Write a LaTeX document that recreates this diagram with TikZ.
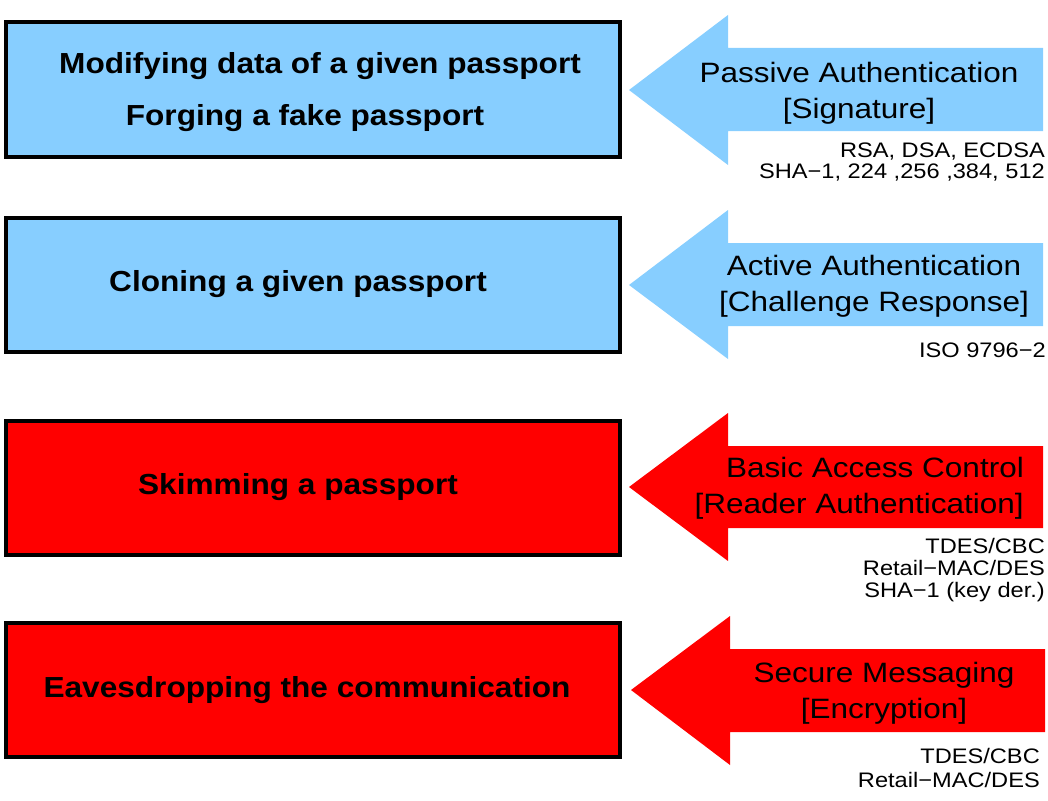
\documentclass[tikz,border=0pt]{standalone}
\usepackage{fontspec}
\setmainfont[FakeStretch=1.125,BoldFeatures={FakeStretch=1.09}]{Liberation Sans}
\definecolor{lblue}{HTML}{87CEFF}
\definecolor{pred}{HTML}{FF0000}
\begin{document}
\begin{tikzpicture}[x=1pt,y=-1pt,
  threat/.style={draw=black,line width=4pt,minimum width=614pt,minimum height=134pt,inner sep=0pt},
  btxt/.style={font=\fontsize{29}{35}\selectfont\bfseries,anchor=base,inner sep=0pt},
  atxt/.style={font=\fontsize{28}{34}\selectfont,anchor=base,inner sep=0pt},
  stxt/.style={font=\fontsize{21}{24}\selectfont,anchor=base east,inner sep=0pt}]
\useasboundingbox (0,0) rectangle (1048,800);
% boxes
\node[threat,fill=lblue] (b1) at (313,89.5) {};
\node[threat,fill=lblue] (b2) at (313,284.5) {};
\node[threat,fill=pred] (b3) at (313,487.5) {};
\node[threat,fill=pred] (b4) at (313,690) {};
% arrows
\fill[lblue] (629,90) -- (728,15) -- (728,48) -- (1043,48) -- (1043,131) -- (728,131) -- (728,165) -- cycle;
\fill[lblue] (629,285) -- (728,210) -- (728,243) -- (1043,243) -- (1043,326) -- (728,326) -- (728,359) -- cycle;
\fill[pred] (629,487) -- (728,413) -- (728,446) -- (1043,446) -- (1043,528) -- (728,528) -- (728,561) -- cycle;
\fill[pred] (631,690) -- (730,616) -- (730,649) -- (1045,649) -- (1045,732) -- (730,732) -- (730,765) -- cycle;
% box texts
\node[btxt] (t1a) at (320,74) {Modifying data of a given passport};
\node[btxt] (t1b) at (305,125) {Forging a fake passport};
\node[btxt] (t2) at (298,291) {Cloning a given passport};
\node[btxt] (t3) at (298,494) {Skimming a passport};
\node[btxt] (t4) at (307,697) {Eavesdropping the communication};
% arrow texts
\node[atxt] (a1a) at (859,82) {Passive Authentication};
\node[atxt] (a1b) at (859,118) {[Signature]};
\node[stxt] (s1a) at (1045,157) {RSA, DSA, ECDSA};
\node[stxt] (s1b) at (1045,178) {SHA−1, 224 ,256 ,384, 512};
\node[atxt] (a2a) at (874,275) {Active Authentication};
\node[atxt] (a2b) at (874,311) {[Challenge Response]};
\node[stxt] (s2) at (1046,357) {ISO 9796−2};
\node[atxt,anchor=base east] (a3a) at (1024,477) {Basic Access Control};
\node[atxt,anchor=base east] (a3b) at (1024,513) {[Reader Authentication]};
\node[stxt] (s3a) at (1045,553) {TDES/CBC};
\node[stxt] (s3b) at (1045,575) {Retail−MAC/DES};
\node[stxt] (s3c) at (1045,597) {SHA−1 (key der.)};
\node[atxt] (a4a) at (884,682) {Secure Messaging};
\node[atxt] (a4b) at (884,718) {[Encryption]};
\node[stxt] (s4a) at (1040,763) {TDES/CBC};
\node[stxt] (s4b) at (1040,787) {Retail−MAC/DES};
\end{tikzpicture}
\end{document}
